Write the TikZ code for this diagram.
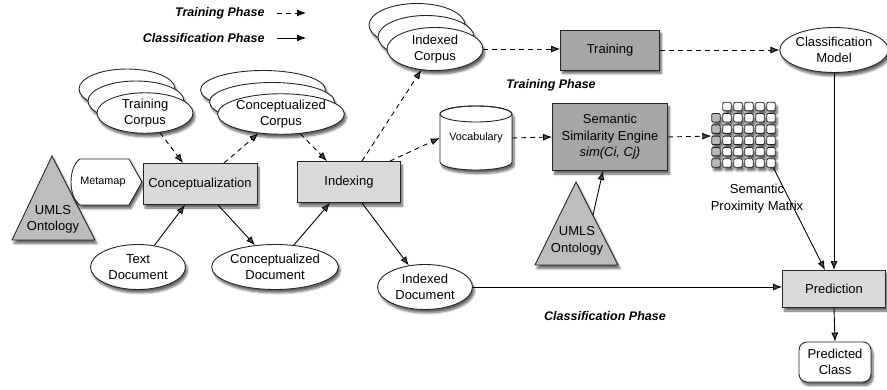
\documentclass[tikz,border=0pt]{standalone}
\usepackage{fontspec}
\setmainfont{Liberation Sans}
\usetikzlibrary{arrows.meta,shapes.geometric,shadows.blur}
\definecolor{lightbox}{gray}{0.85}
\definecolor{darkbox}{gray}{0.65}
\definecolor{ontofill}{gray}{0.74}
\definecolor{cellgray}{gray}{0.72}
\begin{document}
\begin{tikzpicture}[x=1pt,y=-1pt,
  font=\fontsize{13}{16.5}\selectfont,
  softshadow/.style={blur shadow={shadow xshift=2pt,shadow yshift=-3.5pt,shadow blur steps=6,shadow opacity=60}},
  proc/.style={rectangle,draw=black!85,line width=0.9pt,fill=lightbox,softshadow,align=center,inner sep=2pt},
  dproc/.style={proc,fill=darkbox},
  data/.style={ellipse,draw=black!85,line width=0.9pt,fill=white,softshadow,align=center,inner sep=0pt},
  onto/.style={draw=black!85,line width=0.9pt,fill=ontofill,softshadow},
  cell/.style={rectangle,draw=black!85,line width=0.9pt,rounded corners=1.2pt,minimum size=8.5pt,inner sep=0pt,softshadow},
  flow/.style={line width=0.9pt,-{Latex[length=9pt,width=7pt]}},
  train/.style={flow,dash pattern=on 5pt off 4pt},
  phase/.style={font=\fontsize{12.5}{15}\selectfont\bfseries\itshape},
  small/.style={font=\fontsize{10.8}{13}\selectfont}]
\useasboundingbox (0,0) rectangle (887,390);

\node[phase,anchor=east] (lgtrain) at (268,13) {Training Phase};
\node[phase,anchor=east] (lgclass) at (268,38) {Classification Phase};
\coordinate (lgtrainend) at (306,13);
\coordinate (lgclassend) at (306,38);
\draw[train] ([xshift=9pt]lgtrain.east) -- (lgtrainend);
\draw[flow] ([xshift=9pt]lgclass.east) -- (lgclassend);

\draw[onto] (12,240) -- (52,156) -- (95,240) -- cycle;
\node[align=center] (umlsa) at (53,219.5) {UMLS\\Ontology};
\draw[onto] (535,265) -- (576,182) -- (618,265) -- cycle;
\node[align=center] (umlsb) at (577,241) {UMLS\\Ontology};
\coordinate (umlsbside) at (593,215);

\draw[fill=white,draw=black!85,line width=0.9pt,softshadow] (80,159) -- (129,159) -- (142,182) -- (129,205) -- (80,205) .. controls (68,197) and (68,167) .. (80,159) -- cycle;
\node[small] (metamap) at (103,182) {Metamap};

\node[data,minimum width=96pt,minimum height=40pt] (trcorpusc) at (127,89) {};
\node[data,minimum width=96pt,minimum height=40pt] (trcorpusb) at (136,101) {};
\node[data,minimum width=96pt,minimum height=40pt] (trcorpus) at (145,113) {Training\\Corpus};
\node[data,minimum width=125pt,minimum height=39pt] (concorpusc) at (263,90) {};
\node[data,minimum width=125pt,minimum height=39pt] (concorpusb) at (272,102) {};
\node[data,minimum width=125pt,minimum height=39pt] (concorpus) at (281,114) {Conceptualized\\Corpus};
\node[data,minimum width=96pt,minimum height=43pt] (idxcorpusc) at (417,25) {};
\node[data,minimum width=96pt,minimum height=43pt] (idxcorpusb) at (426,37) {};
\node[data,minimum width=96pt,minimum height=43pt] (idxcorpus) at (435,49) {Indexed\\Corpus};

\node[proc,minimum width=114pt,minimum height=41pt] (concept) at (200,184) {Conceptualization};
\node[proc,minimum width=103pt,minimum height=41pt] (indexing) at (349,182) {Indexing};
\node[dproc,minimum width=99pt,minimum height=40pt] (training) at (610,50) {Training};
\node[dproc,minimum width=115pt,minimum height=67pt] (semeng) at (610,137) {Semantic\\Similarity Engine\\\textit{sim(Ci, Cj)}};
\node[proc,minimum width=103pt,minimum height=37pt] (pred) at (834,289) {Prediction};
\node[proc,fill=white,rounded corners=8pt,minimum width=72pt,minimum height=40pt] (predclass) at (835,362) {Predicted\\Class};

\node[data,minimum width=95pt,minimum height=45pt] (textdoc) at (138,267) {Text\\Document};
\node[data,minimum width=124pt,minimum height=45pt] (condoc) at (275,267) {Conceptualized\\Document};
\node[data,minimum width=95pt,minimum height=45pt] (idxdoc) at (425,287) {Indexed\\Document};
\node[data,minimum width=108pt,minimum height=45pt] (cmodel) at (834,50) {Classification\\Model};

\draw[fill=white,draw=black!85,line width=0.9pt,softshadow] (440,114) -- (440,162) arc[start angle=180,end angle=360,x radius=36pt,y radius=8pt] -- (512,114) arc[start angle=0,end angle=180,x radius=36pt,y radius=8pt] -- cycle;
\draw[draw=black!85,line width=0.9pt] (476,114) ellipse[x radius=36pt,y radius=8pt];
\node[small,minimum width=72pt,minimum height=64pt,inner sep=0pt] (vocab) at (476,138) {Vocabulary};

\foreach \r in {0,...,5}{
  \foreach \c in {0,...,5}{
    \ifnum\r\c=0 \else
      \ifnum\c=0 \def\cellfill{cellgray}\else\def\cellfill{white}\fi
      \node[cell,fill=\cellfill] (m\r\c) at ({716+11*\c},{106.5+11.3*\r}) {};
    \fi
  }
}
\node[minimum width=64pt,minimum height=68pt,inner sep=0pt] (simmat) at (743.5,136) {};
\node[align=center] (simmatlabel) at (757,198.5) {Semantic\\Proximity Matrix};

\node[phase] (trainphase) at (551,85) {Training Phase};
\node[phase] (classphase) at (605,316) {Classification Phase};

\draw[train] (trcorpus) -- ([xshift=-17pt]concept.north);
\draw[train] ([xshift=24pt]concept.north) -- (concorpus);
\draw[train] (concorpus) -- ([xshift=-22pt]indexing.north);
\draw[train] ([xshift=13pt]indexing.north) -- (idxcorpus);
\draw[train] ([xshift=41pt]indexing.north) -- (vocab.west);
\draw[train] (idxcorpus.east) -- (training.west |- idxcorpus.east);
\draw[train] (vocab.east) -- (semeng.west);
\draw[train] (training.east) -- (cmodel.west);
\draw[train] (semeng.east) -- (simmat.west);

\draw[flow] (textdoc) -- ([xshift=-15pt]concept.south);
\draw[flow] ([xshift=18pt]concept.south) -- (condoc);
\draw[flow] (condoc) -- ([xshift=-19pt]indexing.south);
\draw[flow] ([xshift=13pt]indexing.south) -- (idxdoc);
\draw[flow] (idxdoc.east) -- (pred.west |- idxdoc.east);
\draw[flow] (umlsbside) -- ([xshift=-7pt]semeng.south);
\draw[flow] (m55) -- ([xshift=-9pt]pred.north);
\draw[flow] (cmodel.south) -- (pred.north);
\draw[flow] (pred.south) -- (predclass.north);
\end{tikzpicture}
\end{document}
